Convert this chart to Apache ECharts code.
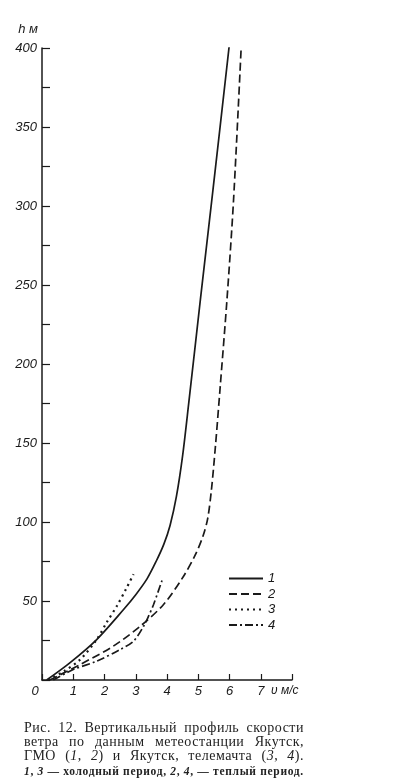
<!DOCTYPE html>
<html>
<head>
<meta charset="utf-8">
<script src="https://cdn.jsdelivr.net/npm/echarts@6/dist/echarts.min.js"></script>
<style>
html,body{margin:0;padding:0;background:#fff;}
#wrap{position:relative;width:411px;height:783px;}
#chart{position:absolute;left:0;top:0;width:411px;height:783px;}
#cap{position:absolute;left:24px;top:721px;width:280px;font-family:"Liberation Serif","DejaVu Serif",serif;color:#222;}
.l{font-size:14px;line-height:14px;letter-spacing:0.5px;white-space:nowrap;display:flex;justify-content:space-between;}
.s{font-size:11.5px;line-height:12px;letter-spacing:0.7px;font-weight:bold;margin-top:2px;white-space:nowrap;display:flex;justify-content:space-between;}
i{font-style:italic;}
</style>
</head>
<body>
<div id="wrap">
<div id="chart"></div>
<div id="cap">
<div class="l"><span>Рис.</span><span>12.</span><span>Вертикальный</span><span>профиль</span><span>скорости</span></div>
<div class="l"><span>ветра</span><span>по</span><span>данным</span><span>метеостанции</span><span>Якутск,</span></div>
<div class="l"><span>ГМО</span><span>(<i>1</i>,</span><span><i>2</i>)</span><span>и</span><span>Якутск,</span><span>телемачта</span><span>(<i>3</i>,</span><span><i>4</i>).</span></div>
<div class="s"><span><i>1</i>,</span><span><i>3</i></span><span>—</span><span>холодный</span><span>период,</span><span><i>2</i>,</span><span><i>4</i>,</span><span>—</span><span>теплый</span><span>период.</span></div>
</div>
</div>
<script>
// Series data: [wind speed m/s, height m]
const seriesNames = ['1', '2', '3', '4'];
const s1 = [[0.15,0],[0.9,11],[1.75,25.6],[2.61,44.6],[3.0,54],[3.36,64],[3.65,75],[3.9,86],[4.1,98],[4.3,116],[4.5,142],[4.7,176],[5.07,241],[5.47,310],[6.0,403]];
const s2 = [[0.25,0],[1.22,9.8],[2.28,21.4],[3.14,34],[3.89,47.8],[4.53,65.7],[4.9,79],[5.15,91],[5.3,102],[5.42,120],[5.55,148],[5.7,185],[5.92,241],[6.13,304],[6.38,403]];
const s3 = [[0.2,0],[0.7,5.5],[1.22,12.9],[1.75,25.6],[2.07,36.4],[2.4,47],[2.7,58],[2.93,67]];
const s4 = [[0.36,0],[1.0,6.6],[1.75,11.9],[2.5,19.3],[2.93,24.6],[3.25,34],[3.41,40.4],[3.57,47.8],[3.84,63]];
const xTicks = [0,1,2,3,4,5,6,7,8];
const yMajor = [0,50,100,150,200,250,300,350,400];

const ink = '#1a1a1a';
const lblFont = {fontFamily:'Liberation Sans', fontStyle:'italic', fontSize:13, color:ink};
function line(name, data, type, w){
  return {name, type:'line', data, showSymbol:false, symbol:'none', smooth:0.3,
    lineStyle:{color:ink, width:w, type:type}, itemStyle:{color:ink}};
}
const chart = echarts.init(document.getElementById('chart'));
chart.setOption({
  backgroundColor:'#fff',
  animation:false,
  grid:{left:42, right:119, top:48, bottom:103},
  legend:{show:true, orient:'vertical', left:223, top:567, itemWidth:34, itemHeight:14, itemGap:2.5,
    data:seriesNames, textStyle:Object.assign({}, lblFont, {fontSize:13}),
    itemStyle:{color:'rgba(0,0,0,0)', borderWidth:0, opacity:0},
    selectedMode:false},
  xAxis:{type:'value', min:0, max:8, interval:1,
    name:'υ м/с', nameLocation:'end', nameGap:-21,
    nameTextStyle:Object.assign({}, lblFont, {align:'left', verticalAlign:'top', padding:[5,0,0,0], fontSize:12}),
    axisLine:{show:true, onZero:false, lineStyle:{color:ink, width:1.5}},
    axisTick:{show:true, inside:true, length:6, lineStyle:{color:ink, width:1.2}},
    axisLabel:Object.assign({}, lblFont, {margin:5,
      formatter:v => v===8 ? '' : (v===0 ? '{z|0}' : String(v)),
      rich:{z:Object.assign({}, lblFont, {padding:[0,14,0,0]})}}),
    splitLine:{show:false}},
  yAxis:{type:'value', min:0, max:400, interval:25,
    name:'h м', nameLocation:'end', nameGap:12,
    nameTextStyle:Object.assign({}, lblFont, {align:'right', padding:[0,4,0,0]}),
    axisLine:{show:true, onZero:false, lineStyle:{color:ink, width:1.5}},
    axisTick:{show:true, inside:true, length:8, lineStyle:{color:ink, width:1.2}},
    axisLabel:Object.assign({}, lblFont, {margin:5,
      formatter:v => (v===0 || yMajor.indexOf(v)<0) ? '' : String(v)}),
    splitLine:{show:false}},
  series:[
    line('1', s1, 'solid', 1.7),
    line('2', s2, [8,4], 1.7),
    line('3', s3, [2,4], 2.2),
    line('4', s4, [8,3,2,3], 1.7)
  ]
});
</script>
</body>
</html>
